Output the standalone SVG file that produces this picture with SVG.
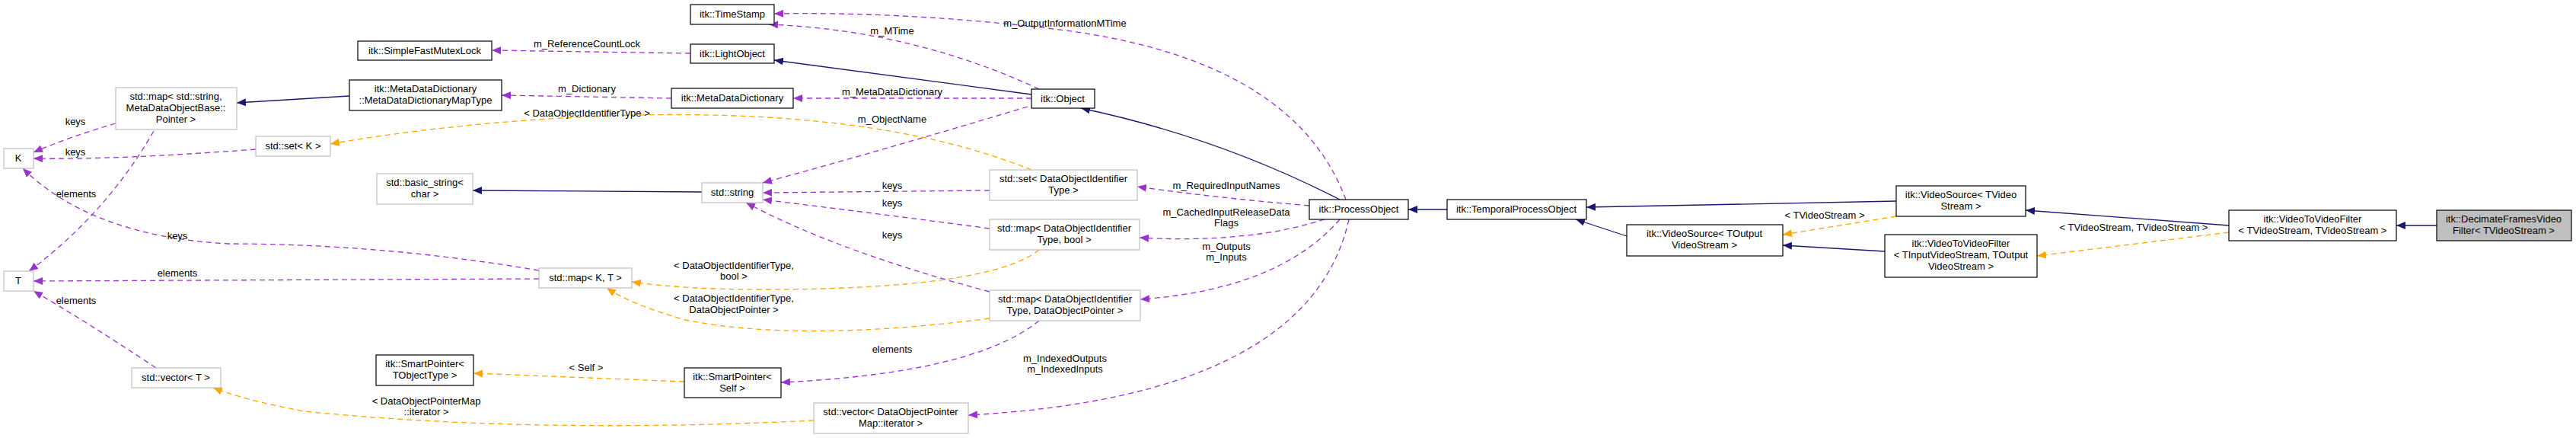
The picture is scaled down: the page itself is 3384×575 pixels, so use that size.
<svg xmlns="http://www.w3.org/2000/svg" width="3384" height="575" viewBox="0 0 3384 575">
<defs>
<marker id="an" viewBox="0 0 12 10" refX="12" refY="5" markerWidth="12" markerHeight="10" markerUnits="userSpaceOnUse" orient="auto"><path d="M0,0 L12,5 L0,10 z" fill="#191970"/></marker>
<marker id="ap" viewBox="0 0 12 10" refX="12" refY="5" markerWidth="12" markerHeight="10" markerUnits="userSpaceOnUse" orient="auto"><path d="M0,0 L12,5 L0,10 z" fill="#9a32cd"/></marker>
<marker id="ao" viewBox="0 0 12 10" refX="12" refY="5" markerWidth="12" markerHeight="10" markerUnits="userSpaceOnUse" orient="auto"><path d="M0,0 L12,5 L0,10 z" fill="#ffa500"/></marker>
</defs>
<style>
text{font-family:"Liberation Sans",Arial,sans-serif;font-size:13px;fill:#000;text-anchor:middle}
.b{fill:#fff;stroke:#000;stroke-width:1.2}
.g{fill:#fff;stroke:#bfbfbf;stroke-width:1.2}
.s{fill:#bfbfbf;stroke:#000;stroke-width:1.2}
.n{fill:none;stroke:#191970;stroke-width:1.3;marker-end:url(#an)}
.p{fill:none;stroke:#9a32cd;stroke-width:1.3;stroke-dasharray:7,5;marker-end:url(#ap)}
.o{fill:none;stroke:#ffa500;stroke-width:1.3;stroke-dasharray:7,5;marker-end:url(#ao)}
</style>
<rect width="3384" height="575" fill="#fff"/>
<g id="connectors">
<path class="n" d="M459,126 L311,135"/>
<path class="p" d="M907,70 L646,66"/>
<path class="p" d="M882,129 L659,125"/>
<path class="p" d="M152,162 Q90,180 44,200"/>
<path class="p" d="M336,196 Q150,210 44,208"/>
<path class="p" d="M202,172 Q140,280 38,356"/>
<path class="p" d="M708,355 Q500,320 300,320 Q120,310 30,221"/>
<path class="p" d="M708,366 L44,369"/>
<path class="p" d="M205,483 Q110,420 44,382"/>
<path class="n" d="M1355,124 L1017,79"/>
<path class="p" d="M1365,117 Q1200,40 1010,32"/>
<path class="p" d="M1355,129 L1042,129"/>
<path class="p" d="M1350,140 Q1150,200 1002,240"/>
<path class="n" d="M922,252 L621,250"/>
<path class="o" d="M1355,223 Q1150,140 800,152 Q600,160 434,189"/>
<path class="p" d="M1300,250 L1002,253"/>
<path class="p" d="M1300,300 Q1150,280 1002,262"/>
<path class="p" d="M1300,383 Q1100,330 980,266"/>
<path class="o" d="M1365,328 Q1300,380 1000,380 Q900,380 830,370"/>
<path class="o" d="M1300,418 Q1050,450 900,420 Q830,400 797,378"/>
<path class="o" d="M899,501 L622,490"/>
<path class="p" d="M1365,421 Q1280,490 1026,502"/>
<path class="o" d="M1069,552 Q700,570 400,540 Q320,525 280,509"/>
<path class="n" d="M1760,262 Q1600,180 1420,142"/>
<path class="p" d="M1768,262 Q1700,80 1400,40 Q1200,15 1017,18"/>
<path class="p" d="M1720,270 Q1600,260 1494,245"/>
<path class="p" d="M1740,288 Q1640,320 1497,312"/>
<path class="p" d="M1760,288 Q1680,380 1498,393"/>
<path class="p" d="M1772,288 Q1720,520 1272,545"/>
<path class="n" d="M1901,275 L1850,275"/>
<path class="n" d="M2491,264 L2084,272"/>
<path class="n" d="M2137,310 L2070,288"/>
<path class="o" d="M2491,284 L2342,308"/>
<path class="n" d="M2476,330 L2342,322"/>
<path class="n" d="M2928,296 L2661,276"/>
<path class="o" d="M2928,305 L2676,336"/>
<path class="n" d="M3201,296 L3148,296"/>
<text x="771" y="62">m_ReferenceCountLock</text>
<text x="771" y="121">m_Dictionary</text>
<text x="771" y="153">&lt; DataObjectIdentifierType &gt;</text>
<text x="99" y="164">keys</text>
<text x="99" y="204">keys</text>
<text x="100" y="259">elements</text>
<text x="233" y="314">keys</text>
<text x="233" y="363">elements</text>
<text x="100" y="399">elements</text>
<text x="770" y="487">&lt; Self &gt;</text>
<text x="560" y="531">&lt; DataObjectPointerMap</text>
<text x="560" y="545">::iterator &gt;</text>
<text x="1172" y="45">m_MTime</text>
<text x="1399" y="35">m_OutputInformationMTime</text>
<text x="1172" y="125">m_MetaDataDictionary</text>
<text x="1172" y="161">m_ObjectName</text>
<text x="1172" y="248">keys</text>
<text x="1172" y="271">keys</text>
<text x="1172" y="313">keys</text>
<text x="964" y="353">&lt; DataObjectIdentifierType,</text>
<text x="964" y="367">bool &gt;</text>
<text x="964" y="396">&lt; DataObjectIdentifierType,</text>
<text x="964" y="411">DataObjectPointer &gt;</text>
<text x="1172" y="463">elements</text>
<text x="1399" y="475">m_IndexedOutputs</text>
<text x="1399" y="489">m_IndexedInputs</text>
<text x="1611" y="248">m_RequiredInputNames</text>
<text x="1611" y="283">m_CachedInputReleaseData</text>
<text x="1611" y="297">Flags</text>
<text x="1611" y="328">m_Outputs</text>
<text x="1611" y="342">m_Inputs</text>
<text x="2397" y="287">&lt; TVideoStream &gt;</text>
<text x="2803" y="303">&lt; TVideoStream, TVideoStream &gt;</text>
</g>
<g id="n_mutex"><rect class="b" x="470" y="54" width="176" height="25"/><text x="558" y="71">itk::SimpleFastMutexLock</text></g>
<g id="n_mdmap"><rect class="b" x="459" y="105" width="200" height="40"/><text x="559" y="121">itk::MetaDataDictionary</text><text x="559" y="136">::MetaDataDictionaryMapType</text></g>
<g id="n_mapstr"><rect class="g" x="152" y="115" width="159" height="55"/><text x="231" y="131">std::map&lt; std::string,</text><text x="231" y="146">MetaDataObjectBase::</text><text x="231" y="161">Pointer &gt;</text></g>
<g id="n_setk"><rect class="g" x="336" y="179" width="98" height="26"/><text x="385" y="196">std::set&lt; K &gt;</text></g>
<g id="n_k"><rect class="g" x="5" y="195" width="39" height="26"/><text x="24" y="212">K</text></g>
<g id="n_bstr"><rect class="g" x="495" y="228" width="126" height="40"/><text x="558" y="244">std::basic_string&lt;</text><text x="558" y="259">char &gt;</text></g>
<g id="n_t"><rect class="g" x="5" y="356" width="39" height="26"/><text x="24" y="373">T</text></g>
<g id="n_mapkt"><rect class="g" x="708" y="352" width="122" height="26"/><text x="769" y="369">std::map&lt; K, T &gt;</text></g>
<g id="n_vect"><rect class="g" x="173" y="483" width="117" height="26"/><text x="231" y="500">std::vector&lt; T &gt;</text></g>
<g id="n_spobj"><rect class="b" x="494" y="466" width="128" height="40"/><text x="558" y="482">itk::SmartPointer&lt;</text><text x="558" y="497">TObjectType &gt;</text></g>
<g id="n_ts"><rect class="b" x="907" y="6" width="110" height="26"/><text x="962" y="23">itk::TimeStamp</text></g>
<g id="n_lo"><rect class="b" x="907" y="58" width="110" height="25"/><text x="962" y="75">itk::LightObject</text></g>
<g id="n_mdd"><rect class="b" x="882" y="116" width="160" height="26"/><text x="962" y="133">itk::MetaDataDictionary</text></g>
<g id="n_obj"><rect class="b" x="1355" y="117" width="83" height="25"/><text x="1396" y="134">itk::Object</text></g>
<g id="n_str"><rect class="g" x="922" y="240" width="80" height="26"/><text x="962" y="257">std::string</text></g>
<g id="n_setdoit"><rect class="g" x="1300" y="223" width="194" height="40"/><text x="1397" y="239">std::set&lt; DataObjectIdentifier</text><text x="1397" y="254">Type &gt;</text></g>
<g id="n_mapbool"><rect class="g" x="1300" y="288" width="197" height="40"/><text x="1398" y="304">std::map&lt; DataObjectIdentifier</text><text x="1398" y="319">Type, bool &gt;</text></g>
<g id="n_mapdop"><rect class="g" x="1300" y="381" width="198" height="40"/><text x="1399" y="397">std::map&lt; DataObjectIdentifier</text><text x="1399" y="412">Type, DataObjectPointer &gt;</text></g>
<g id="n_spself"><rect class="b" x="899" y="483" width="127" height="39"/><text x="962" y="499">itk::SmartPointer&lt;</text><text x="962" y="514">Self &gt;</text></g>
<g id="n_vecdop"><rect class="g" x="1069" y="529" width="203" height="40"/><text x="1170" y="545">std::vector&lt; DataObjectPointer</text><text x="1170" y="560">Map::iterator &gt;</text></g>
<g id="n_po"><rect class="b" x="1720" y="262" width="130" height="26"/><text x="1785" y="279">itk::ProcessObject</text></g>
<g id="n_tpo"><rect class="b" x="1901" y="262" width="183" height="26"/><text x="1992" y="279">itk::TemporalProcessObject</text></g>
<g id="n_vsout"><rect class="b" x="2137" y="295" width="205" height="41"/><text x="2239" y="311">itk::VideoSource&lt; TOutput</text><text x="2239" y="326">VideoStream &gt;</text></g>
<g id="n_vsvid"><rect class="b" x="2491" y="244" width="170" height="40"/><text x="2576" y="260">itk::VideoSource&lt; TVideo</text><text x="2576" y="275">Stream &gt;</text></g>
<g id="n_vtvin"><rect class="b" x="2476" y="308" width="200" height="56"/><text x="2576" y="324">itk::VideoToVideoFilter</text><text x="2576" y="339">&lt; TInputVideoStream, TOutput</text><text x="2576" y="354">VideoStream &gt;</text></g>
<g id="n_vtvv"><rect class="b" x="2928" y="276" width="220" height="40"/><text x="3038" y="292">itk::VideoToVideoFilter</text><text x="3038" y="307">&lt; TVideoStream, TVideoStream &gt;</text></g>
<g id="n_dec"><rect class="s" x="3201" y="276" width="177" height="40"/><text x="3289" y="292">itk::DecimateFramesVideo</text><text x="3289" y="307">Filter&lt; TVideoStream &gt;</text></g>
</svg>
